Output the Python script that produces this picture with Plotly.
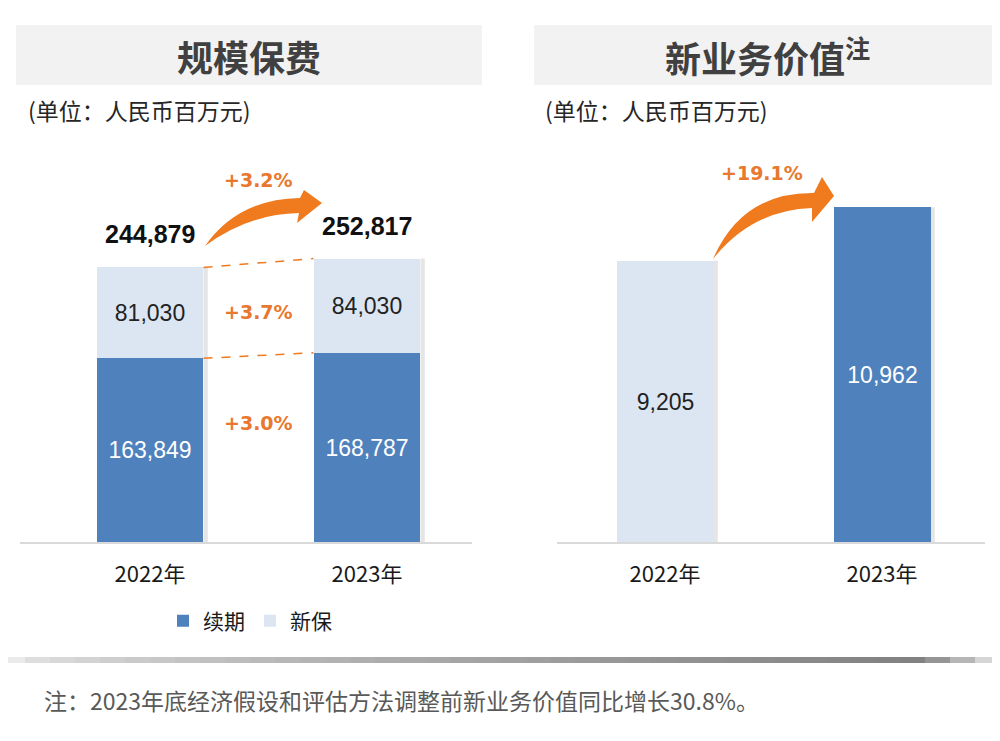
import plotly.graph_objects as go

# ---------------- data ----------------
years = ["2022年", "2023年"]
renewal = [163849, 168787]          # 续期
new_prem = [81030, 84030]           # 新保
scale_total = [244879, 252817]      # 规模保费
nbv = [9205, 10962]                 # 新业务价值
pct_total = "+3.2%"
pct_new = "+3.7%"
pct_renew = "+3.0%"
pct_nbv = "+19.1%"
legend_names = ["续期", "新保"]
title_left = "规模保费"
title_right = "新业务价值<sup>注</sup>"
unit_text = "(单位：人民币百万元)"
footnote = "注：2023年底经济假设和评估方法调整前新业务价值同比增长30.8%。"

BLUE = "#4F81BD"
LIGHT = "#DCE6F2"
ORANGE = "#F07A1E"
ORANGE_T = "#E8782E"
CJK = "Noto Sans CJK SC"
NUM = "Liberation Sans, Arial"

# page has an 8px body margin; design coordinates are in screenshot pixels
OFF = 8
W, H = 1000 - OFF, 741 - OFF
def px(x): return (x - OFF) / W
def py(y): return 1 - (y - OFF) / H

xs = [0, 1]
wl, wr = 0.493, 0.447

fig = go.Figure()
fig.add_trace(go.Bar(
    x=xs, y=renewal, name=legend_names[0], marker=dict(color=BLUE, line=dict(width=0)),
    width=wl, text=renewal, texttemplate="%{y:,}", textposition="inside",
    insidetextanchor="middle", textangle=0, constraintext="none",
    textfont=dict(color="white", size=23, family=NUM),
    xaxis="x", yaxis="y", hoverinfo="skip"))
fig.add_trace(go.Bar(
    x=xs, y=new_prem, name=legend_names[1], marker=dict(color=LIGHT, line=dict(width=0)),
    width=wl, text=new_prem, texttemplate="%{y:,}", textposition="inside",
    insidetextanchor="middle", textangle=0, constraintext="none",
    textfont=dict(color="#222222", size=23, family=NUM),
    xaxis="x", yaxis="y", hoverinfo="skip"))
fig.add_trace(go.Bar(
    x=xs, y=nbv, marker=dict(color=[LIGHT, BLUE], line=dict(width=0)), showlegend=False,
    width=wr, text=nbv, texttemplate="%{y:,}", textposition="inside",
    insidetextanchor="middle", textangle=0, constraintext="none",
    textfont=dict(color=["#222222", "white"], size=23, family=NUM),
    xaxis="x2", yaxis="y2", hoverinfo="skip"))

# y domain in pixels: baseline 542, top 140
ydom = [py(542), py(140)]
left_range = [0, 402 * 892]
right_range = [0, 402 * 32.74]

axis_common = dict(showgrid=False, zeroline=False, fixedrange=True)
tick_font = dict(family=CJK, size=22, color="#1a1a1a")
fig.update_layout(
    width=W, height=H, margin=dict(l=0, r=0, t=0, b=0),
    paper_bgcolor="white", plot_bgcolor="rgba(0,0,0,0)",
    barmode="stack", bargap=0,
    xaxis=dict(domain=[px(20), px(472)], range=[-(150 - 20) / 217, (472 - 150) / 217],
               tickvals=xs, ticktext=years, showline=True, linecolor="#D9D9D9", linewidth=1.5,
               ticks="", tickfont=tick_font, ticklabelstandoff=12,
               **axis_common),
    yaxis=dict(domain=ydom, range=left_range, visible=False, **axis_common),
    xaxis2=dict(domain=[px(557), px(985)], range=[-(665 - 557) / 217, (985 - 665) / 217],
                tickvals=xs, ticktext=years, showline=True, linecolor="#D9D9D9", linewidth=1.5,
                ticks="", tickfont=tick_font, ticklabelstandoff=12,
                anchor="y2", **axis_common),
    yaxis2=dict(domain=ydom, range=right_range, visible=False, anchor="x2", **axis_common),
    legend=dict(orientation="h", x=px(250), xanchor="center", y=py(621), yanchor="middle",
                font=dict(family=CJK, size=21, color="#1a1a1a"), itemwidth=30,
                traceorder="normal", bgcolor="rgba(0,0,0,0)"),
    showlegend=True,
)

shapes = []
# title boxes
shapes.append(dict(type="rect", xref="paper", yref="paper", x0=px(16), x1=px(482), y0=py(85), y1=py(25),
                   fillcolor="#F2F2F2", line=dict(width=0), layer="below"))
shapes.append(dict(type="rect", xref="paper", yref="paper", x0=px(534), x1=px(1000), y0=py(85), y1=py(25),
                   fillcolor="#F2F2F2", line=dict(width=0), layer="below"))
# bar shadows (right edge)
for xa, ya, wd, tops in (("x", "y", wl, scale_total), ("x2", "y2", wr, nbv)):
    for i, t in enumerate(tops):
        shapes.append(dict(type="rect", xref=xa, yref=ya, x0=i + wd / 2, x1=i + wd / 2 + 0.02,
                           y0=0, y1=t, fillcolor="rgba(0,0,0,0.10)", line=dict(width=0), layer="below"))
# dashed connectors
for a, b in ((scale_total[0], scale_total[1]), (renewal[0], renewal[1])):
    shapes.append(dict(type="line", xref="x", yref="y", x0=wl / 2, x1=1 - wl / 2, y0=a, y1=b,
                       line=dict(color=ORANGE, width=1.5, dash="dash")))

def path_px(pts_cmds):
    out = []
    for c in pts_cmds:
        if isinstance(c, str):
            out.append(c)
        else:
            out.append(f"{px(c[0]):.5f},{py(c[1]):.5f}")
    return " ".join(out)

# curved arrows (decorations)
left_arrow = ["M", (205, 246), "Q", (248, 214), (299, 213), "L", (297, 223), "L", (322, 203),
              "L", (304, 190), "L", (300, 198), "Q", (238, 199), (205, 246), "Z"]
right_arrow = ["M", (713, 259), "Q", (752, 210), (812, 208), "L", (812, 222), "L", (834, 196),
               "L", (822, 177), "L", (814, 193), "Q", (742, 192), (713, 259), "Z"]
for ap in (left_arrow, right_arrow):
    shapes.append(dict(type="path", xref="paper", yref="paper", path=path_px(ap),
                       fillcolor=ORANGE, line=dict(width=0)))

# separator gradient line
n = 40
for k in range(n):
    x0 = k * 1000 / n
    t = k / (n - 1)
    g = int(235 - 110 * (t ** 0.6)) if t < 0.93 else int(125 + (t - 0.93) / 0.07 * 90)
    shapes.append(dict(type="rect", xref="paper", yref="paper", x0=px(x0), x1=px(x0 + 1000 / n + 0.5),
                       y0=py(663), y1=py(657), fillcolor=f"rgb({g},{g},{g})", line=dict(width=0)))
fig.update_layout(shapes=shapes)

ann = []
ann.append(dict(xref="paper", yref="paper", x=px(249), y=py(56), text=f"<b>{title_left}</b>", showarrow=False,
                font=dict(family=CJK, size=36, color="#404040"), xanchor="center", yanchor="middle"))
ann.append(dict(xref="paper", yref="paper", x=px(767), y=py(56), text=f"<b>{title_right}</b>", showarrow=False,
                font=dict(family=CJK, size=36, color="#404040"), xanchor="center", yanchor="middle"))
for xx in (26, 543):
    ann.append(dict(xref="paper", yref="paper", x=px(xx), y=py(110), text=unit_text, showarrow=False,
                    font=dict(family=CJK, size=23, color="#262626"), xanchor="left", yanchor="middle"))
for i, t in enumerate(scale_total):
    ann.append(dict(xref="x", yref="y", x=i, y=t, text=f"<b>{t:,}</b>", showarrow=False, yshift=33,
                    font=dict(family=NUM, size=25, color="#111111"), xanchor="center", yanchor="middle"))
pct_font = dict(family="DejaVu Sans", size=19, color=ORANGE_T)
ann.append(dict(xref="paper", yref="paper", x=px(258), y=py(180), text=f"<b>{pct_total}</b>", showarrow=False,
                font=pct_font, xanchor="center", yanchor="middle"))
ann.append(dict(xref="paper", yref="paper", x=px(258), y=py(312), text=f"<b>{pct_new}</b>", showarrow=False,
                font=pct_font, xanchor="center", yanchor="middle"))
ann.append(dict(xref="paper", yref="paper", x=px(258), y=py(423), text=f"<b>{pct_renew}</b>", showarrow=False,
                font=pct_font, xanchor="center", yanchor="middle"))
ann.append(dict(xref="paper", yref="paper", x=px(762), y=py(173), text=f"<b>{pct_nbv}</b>", showarrow=False,
                font=pct_font, xanchor="center", yanchor="middle"))
ann.append(dict(xref="paper", yref="paper", x=px(42), y=py(700), text=footnote, showarrow=False,
                font=dict(family=CJK, size=23, color="#595959"), xanchor="left", yanchor="middle"))
fig.update_layout(annotations=ann)

fig.write_html("out.html")
